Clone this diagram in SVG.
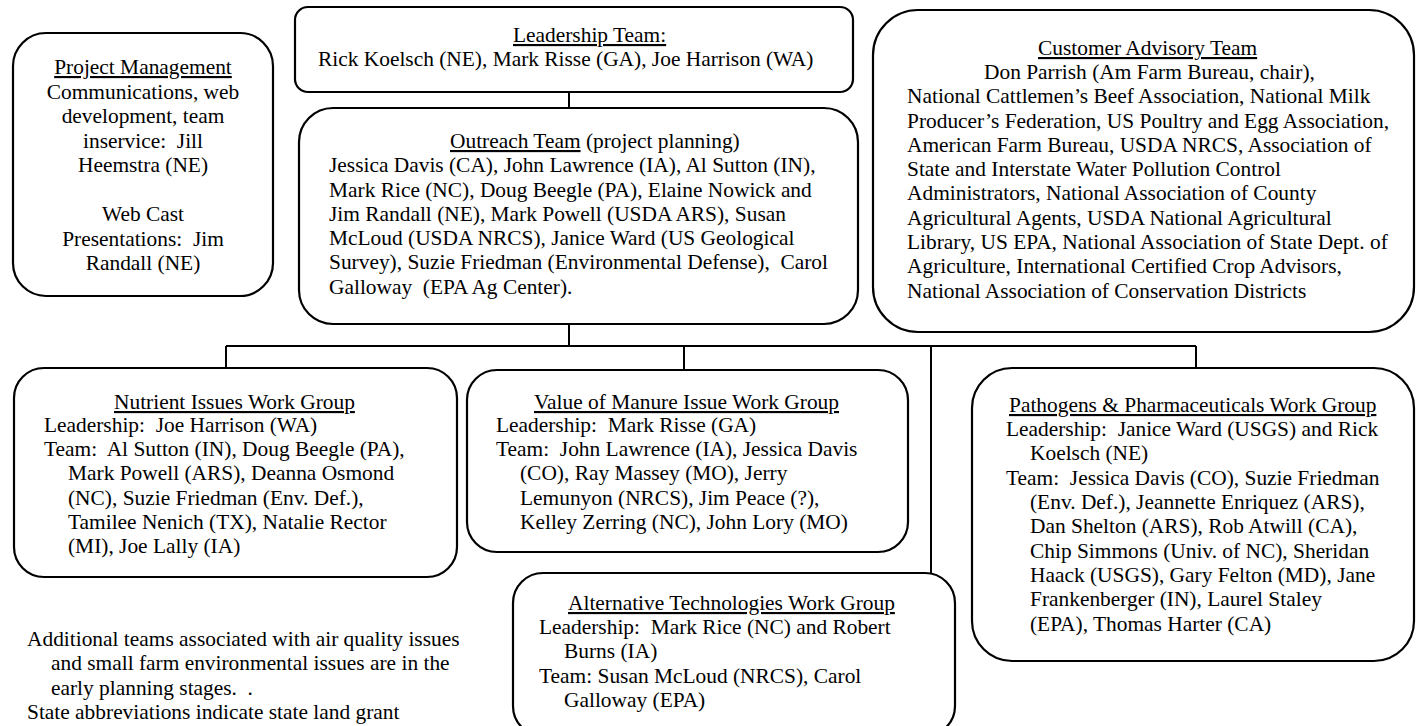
<svg xmlns="http://www.w3.org/2000/svg" width="1416" height="726" viewBox="0 0 1416 726" xml:space="preserve">
<style>
  rect.box { fill: #ffffff; stroke: #000000; stroke-width: 2.2; }
  .conn line { stroke: #000000; stroke-width: 2; }
  text { font-family: "Liberation Serif", "Times New Roman", serif; font-size: 21.4px; fill: #000000; white-space: pre; }
  .u { text-decoration: underline; }
  .mid { text-anchor: middle; }
</style>
<rect width="1416" height="726" fill="#ffffff"/>

<g id="connectors" class="conn">
  <line x1="569" y1="92" x2="569" y2="108"/>
  <line x1="569" y1="324" x2="569" y2="346"/>
  <line x1="226" y1="346" x2="1196" y2="346"/>
  <line x1="226" y1="346" x2="226" y2="368"/>
  <line x1="684" y1="346" x2="684" y2="370"/>
  <line x1="931" y1="346" x2="931" y2="573"/>
  <line x1="1196" y1="346" x2="1196" y2="368"/>
</g>

<g id="project-management">
  <rect class="box" x="13" y="33" width="260" height="263" rx="33" ry="33"/>
  <text class="mid" x="143" y="74"><tspan class="u">Project Management</tspan></text>
  <text class="mid" x="143" y="99">Communications, web</text>
  <text class="mid" x="143" y="123">development, team</text>
  <text class="mid" x="143" y="148">inservice:  Jill</text>
  <text class="mid" x="143" y="172">Heemstra (NE)</text>
  <text class="mid" x="143" y="221">Web Cast</text>
  <text class="mid" x="143" y="246">Presentations:  Jim</text>
  <text class="mid" x="143" y="270">Randall (NE)</text>
</g>

<g id="leadership-team">
  <rect class="box" x="295" y="7" width="558" height="85" rx="13" ry="13"/>
  <text x="513" y="42"><tspan class="u">Leadership Team:</tspan></text>
  <text x="318" y="66">Rick Koelsch (NE), Mark Risse (GA), Joe Harrison (WA)</text>
</g>

<g id="outreach-team">
  <rect class="box" x="299" y="108" width="559" height="216" rx="34" ry="34"/>
  <text x="450" y="148"><tspan class="u">Outreach Team</tspan> (project planning)</text>
  <text x="329" y="172">Jessica Davis (CA), John Lawrence (IA), Al Sutton (IN),</text>
  <text x="329" y="197">Mark Rice (NC), Doug Beegle (PA), Elaine Nowick and</text>
  <text x="329" y="221">Jim Randall (NE), Mark Powell (USDA ARS), Susan</text>
  <text x="329" y="245">McLoud (USDA NRCS), Janice Ward (US Geological</text>
  <text x="329" y="269">Survey), Suzie Friedman (Environmental Defense),  Carol</text>
  <text x="329" y="294">Galloway  (EPA Ag Center).</text>
</g>

<g id="customer-advisory-team">
  <rect class="box" x="873" y="10" width="541" height="322" rx="45" ry="45"/>
  <text x="1038" y="55"><tspan class="u">Customer Advisory Team</tspan></text>
  <text x="984" y="79">Don Parrish (Am Farm Bureau, chair),</text>
  <text x="907" y="103">National Cattlemen’s Beef Association, National Milk</text>
  <text x="907" y="128">Producer’s Federation, US Poultry and Egg Association,</text>
  <text x="907" y="152">American Farm Bureau, USDA NRCS, Association of</text>
  <text x="907" y="176">State and Interstate Water Pollution Control</text>
  <text x="907" y="200">Administrators, National Association of County</text>
  <text x="907" y="225">Agricultural Agents, USDA National Agricultural</text>
  <text x="907" y="249">Library, US EPA, National Association of State Dept. of</text>
  <text x="907" y="273">Agriculture, International Certified Crop Advisors,</text>
  <text x="907" y="298">National Association of Conservation Districts</text>
</g>

<g id="nutrient-issues">
  <rect class="box" x="14" y="368" width="443" height="209" rx="30" ry="30"/>
  <text x="114" y="409"><tspan class="u">Nutrient Issues Work Group</tspan></text>
  <text x="44" y="432">Leadership:  Joe Harrison (WA)</text>
  <text x="44" y="456">Team:  Al Sutton (IN), Doug Beegle (PA),</text>
  <text x="68" y="480">Mark Powell (ARS), Deanna Osmond</text>
  <text x="68" y="505">(NC), Suzie Friedman (Env. Def.),</text>
  <text x="68" y="529">Tamilee Nenich (TX), Natalie Rector</text>
  <text x="68" y="553">(MI), Joe Lally (IA)</text>
</g>

<g id="value-of-manure">
  <rect class="box" x="467" y="370" width="441" height="182" rx="30" ry="30"/>
  <text x="534" y="409"><tspan class="u">Value of Manure Issue Work Group</tspan></text>
  <text x="496" y="432">Leadership:  Mark Risse (GA)</text>
  <text x="496" y="456">Team:  John Lawrence (IA), Jessica Davis</text>
  <text x="520" y="480">(CO), Ray Massey (MO), Jerry</text>
  <text x="520" y="505">Lemunyon (NRCS), Jim Peace (?),</text>
  <text x="520" y="529">Kelley Zerring (NC), John Lory (MO)</text>
</g>

<g id="alternative-technologies">
  <rect class="box" x="513" y="573" width="442" height="163" rx="30" ry="30"/>
  <text x="568" y="610"><tspan class="u">Alternative Technologies Work Group</tspan></text>
  <text x="539" y="634">Leadership:  Mark Rice (NC) and Robert</text>
  <text x="564" y="658">Burns (IA)</text>
  <text x="539" y="683">Team: Susan McLoud (NRCS), Carol</text>
  <text x="564" y="707">Galloway (EPA)</text>
</g>

<g id="pathogens-pharmaceuticals">
  <rect class="box" x="972" y="368" width="442" height="293" rx="40" ry="40"/>
  <text x="1009" y="412"><tspan class="u">Pathogens &amp; Pharmaceuticals Work Group</tspan></text>
  <text x="1006" y="436">Leadership:  Janice Ward (USGS) and Rick</text>
  <text x="1030" y="460">Koelsch (NE)</text>
  <text x="1006" y="485">Team:  Jessica Davis (CO), Suzie Friedman</text>
  <text x="1030" y="509">(Env. Def.), Jeannette Enriquez (ARS),</text>
  <text x="1030" y="533">Dan Shelton (ARS), Rob Atwill (CA),</text>
  <text x="1030" y="558">Chip Simmons (Univ. of NC), Sheridan</text>
  <text x="1030" y="582">Haack (USGS), Gary Felton (MD), Jane</text>
  <text x="1030" y="606">Frankenberger (IN), Laurel Staley</text>
  <text x="1030" y="631">(EPA), Thomas Harter (CA)</text>
</g>

<g id="notes">
  <text x="27" y="646">Additional teams associated with air quality issues</text>
  <text x="51" y="670">and small farm environmental issues are in the</text>
  <text x="51" y="695">early planning stages.  .</text>
  <text x="27" y="719">State abbreviations indicate state land grant</text>
</g>
</svg>
